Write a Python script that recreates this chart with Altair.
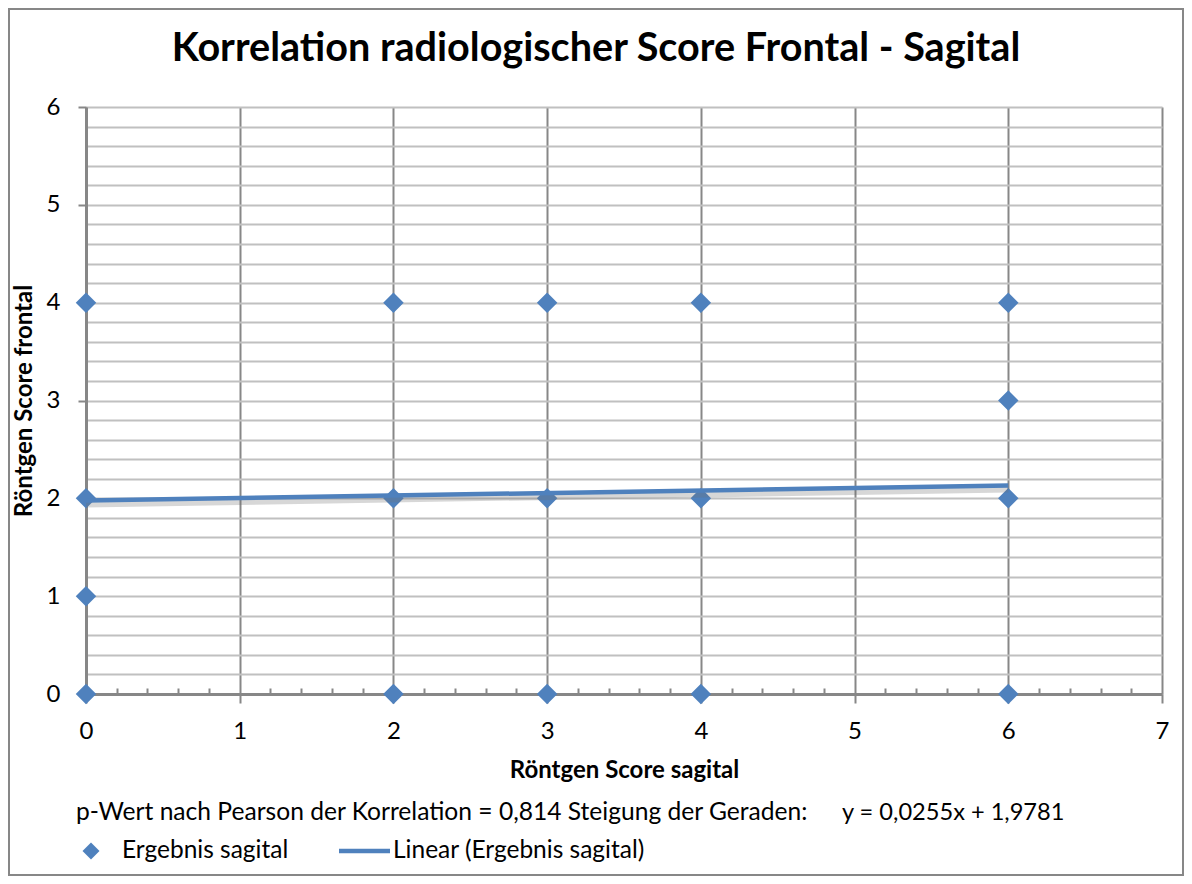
import altair as alt
import pandas as pd

# ---- data ----
x_sagital = [0, 0, 0, 0, 2, 2, 2, 3, 3, 3, 4, 4, 4, 6, 6, 6, 6]
y_frontal = [4, 2, 1, 0, 4, 2, 0, 4, 2, 0, 4, 2, 0, 4, 3, 2, 0]
trend_x = [0, 6]
trend_y = [1.9781, 2.1311]

x_tick_values = [round(i * 0.2, 1) for i in range(36)]
y_tick_values = [round(i * 0.2, 1) for i in range(31)]

title_text = "Korrelation radiologischer Score Frontal - Sagital"
x_title = "Röntgen Score sagital"
y_title = "Röntgen Score frontal"
note_text = "p-Wert nach Pearson der Korrelation = 0,814 Steigung der Geraden:"
eq_text = "y = 0,0255x + 1,9781"
legend_labels = ["Ergebnis sagital", "Linear (Ergebnis sagital)"]

BLUE = "#4F81BD"
AXIS_GREY = "#878787"
GRID_LIGHT = "#C0C0C0"
FONT = "Lato"
W, H = 1076, 587

points = pd.DataFrame({"x": x_sagital, "y": y_frontal})
trend = pd.DataFrame({"x": trend_x, "y": trend_y})

is_int = "abs(datum.value - round(datum.value)) < 0.001"
int_label = f"{is_int} ? format(datum.value, 'd') : ''"

xscale = alt.Scale(domain=[0, 7], nice=False, zero=False)
yscale = alt.Scale(domain=[0, 6], nice=False, zero=False)

x_axis = alt.Axis(
    values=x_tick_values,
    tickCount=200,
    labelExpr=int_label,
    grid=True,
    gridColor=AXIS_GREY,
    gridWidth=2,
    gridOpacity={"condition": {"test": is_int, "value": 1}, "value": 0},
    ticks=True,
    tickColor=AXIS_GREY,
    tickWidth=2,
    tickSize={"condition": {"test": is_int, "value": 9}, "expr": "-6"},
    domainColor=AXIS_GREY,
    domainWidth=3,
    labelFont=FONT,
    labelFontSize=24,
    labelColor="black",
    labelPadding=28,
    labelBaseline="middle",
    labelFlush=False,
    labelOverlap=False,
    titleFont=FONT,
    titleFontSize=24,
    titleFontWeight="bold",
    titleColor="black",
    titleX=W / 2,
    titleY=76,
    titleBaseline="middle",
    titleAlign="center",
)

y_axis = alt.Axis(
    values=y_tick_values,
    tickCount=200,
    labelExpr=int_label,
    grid=True,
    gridColor=GRID_LIGHT,
    gridWidth=2,
    ticks=True,
    tickColor=AXIS_GREY,
    tickWidth=2,
    tickSize=8,
    tickOpacity={"condition": {"test": is_int, "value": 1}, "value": 0},
    domainColor=AXIS_GREY,
    domainWidth=3,
    labelFont=FONT,
    labelFontSize=24,
    labelColor="black",
    labelPadding=18,
    labelFlush=False,
    labelOverlap=False,
    titleFont=FONT,
    titleFontSize=24,
    titleFontWeight="bold",
    titleColor="black",
    titleX=-62,
    titleY=H / 2,
    titleAngle=270,
    titleBaseline="middle",
    titleAlign="center",
)

pts = alt.Chart(points).mark_point(
    shape="diamond", filled=True, size=420, color=BLUE, opacity=1
).encode(
    x=alt.X("x:Q", scale=xscale, axis=x_axis, title=x_title),
    y=alt.Y("y:Q", scale=yscale, axis=y_axis, title=y_title),
)

shadow = alt.Chart(trend).mark_line(
    color="#6f6f6f", strokeWidth=6, opacity=0.28, yOffset=4
).encode(x=alt.X("x:Q", scale=xscale), y=alt.Y("y:Q", scale=yscale))

line = alt.Chart(trend).mark_line(color=BLUE, strokeWidth=4.5).encode(
    x=alt.X("x:Q", scale=xscale), y=alt.Y("y:Q", scale=yscale)
)

one = alt.Data(values=[{}])

border = alt.Chart(one).mark_rect(
    filled=False, stroke=AXIS_GREY, strokeWidth=2, clip=False
).encode(
    x=alt.value(-77), x2=alt.value(1097), y=alt.value(-98), y2=alt.value(768)
)

title = alt.Chart(one).mark_text(
    text=title_text, font=FONT, fontSize=39.6, fontWeight="bold", align="center",
    baseline="middle", color="black"
).encode(x=alt.value(510), y=alt.value(-58))

note = alt.Chart(one).mark_text(
    text=note_text, font=FONT, fontSize=24.6, align="left", baseline="middle", color="black"
).encode(x=alt.value(-10), y=alt.value(706))

eq = alt.Chart(one).mark_text(
    text=eq_text, font=FONT, fontSize=23.6, align="left", baseline="middle", color="black"
).encode(x=alt.value(756), y=alt.value(706))

leg_sym = alt.Chart(one).mark_point(
    shape="diamond", filled=True, size=290, color=BLUE, opacity=1
).encode(x=alt.value(5), y=alt.value(744))

leg_txt1 = alt.Chart(one).mark_text(
    text=legend_labels[0], font=FONT, fontSize=24.5, align="left", baseline="middle", color="black"
).encode(x=alt.value(36), y=alt.value(744))

leg_line = alt.Chart(one).mark_rule(color=BLUE, strokeWidth=4.5).encode(
    x=alt.value(253), x2=alt.value(304), y=alt.value(744)
)

leg_txt2 = alt.Chart(one).mark_text(
    text=legend_labels[1], font=FONT, fontSize=24.5, align="left", baseline="middle", color="black"
).encode(x=alt.value(307), y=alt.value(744))

chart = alt.layer(
    pts, shadow, line, border, title, note, eq, leg_sym, leg_txt1, leg_line, leg_txt2
).properties(
    width=W,
    height=H,
    autosize=alt.AutoSizeParams(type="none"),
    padding={"left": 78, "top": 99, "right": 22, "bottom": 182},
).configure_view(strokeWidth=0).configure(background="white")

chart.save("out.html", embed_options={"renderer": "svg", "actions": False})
